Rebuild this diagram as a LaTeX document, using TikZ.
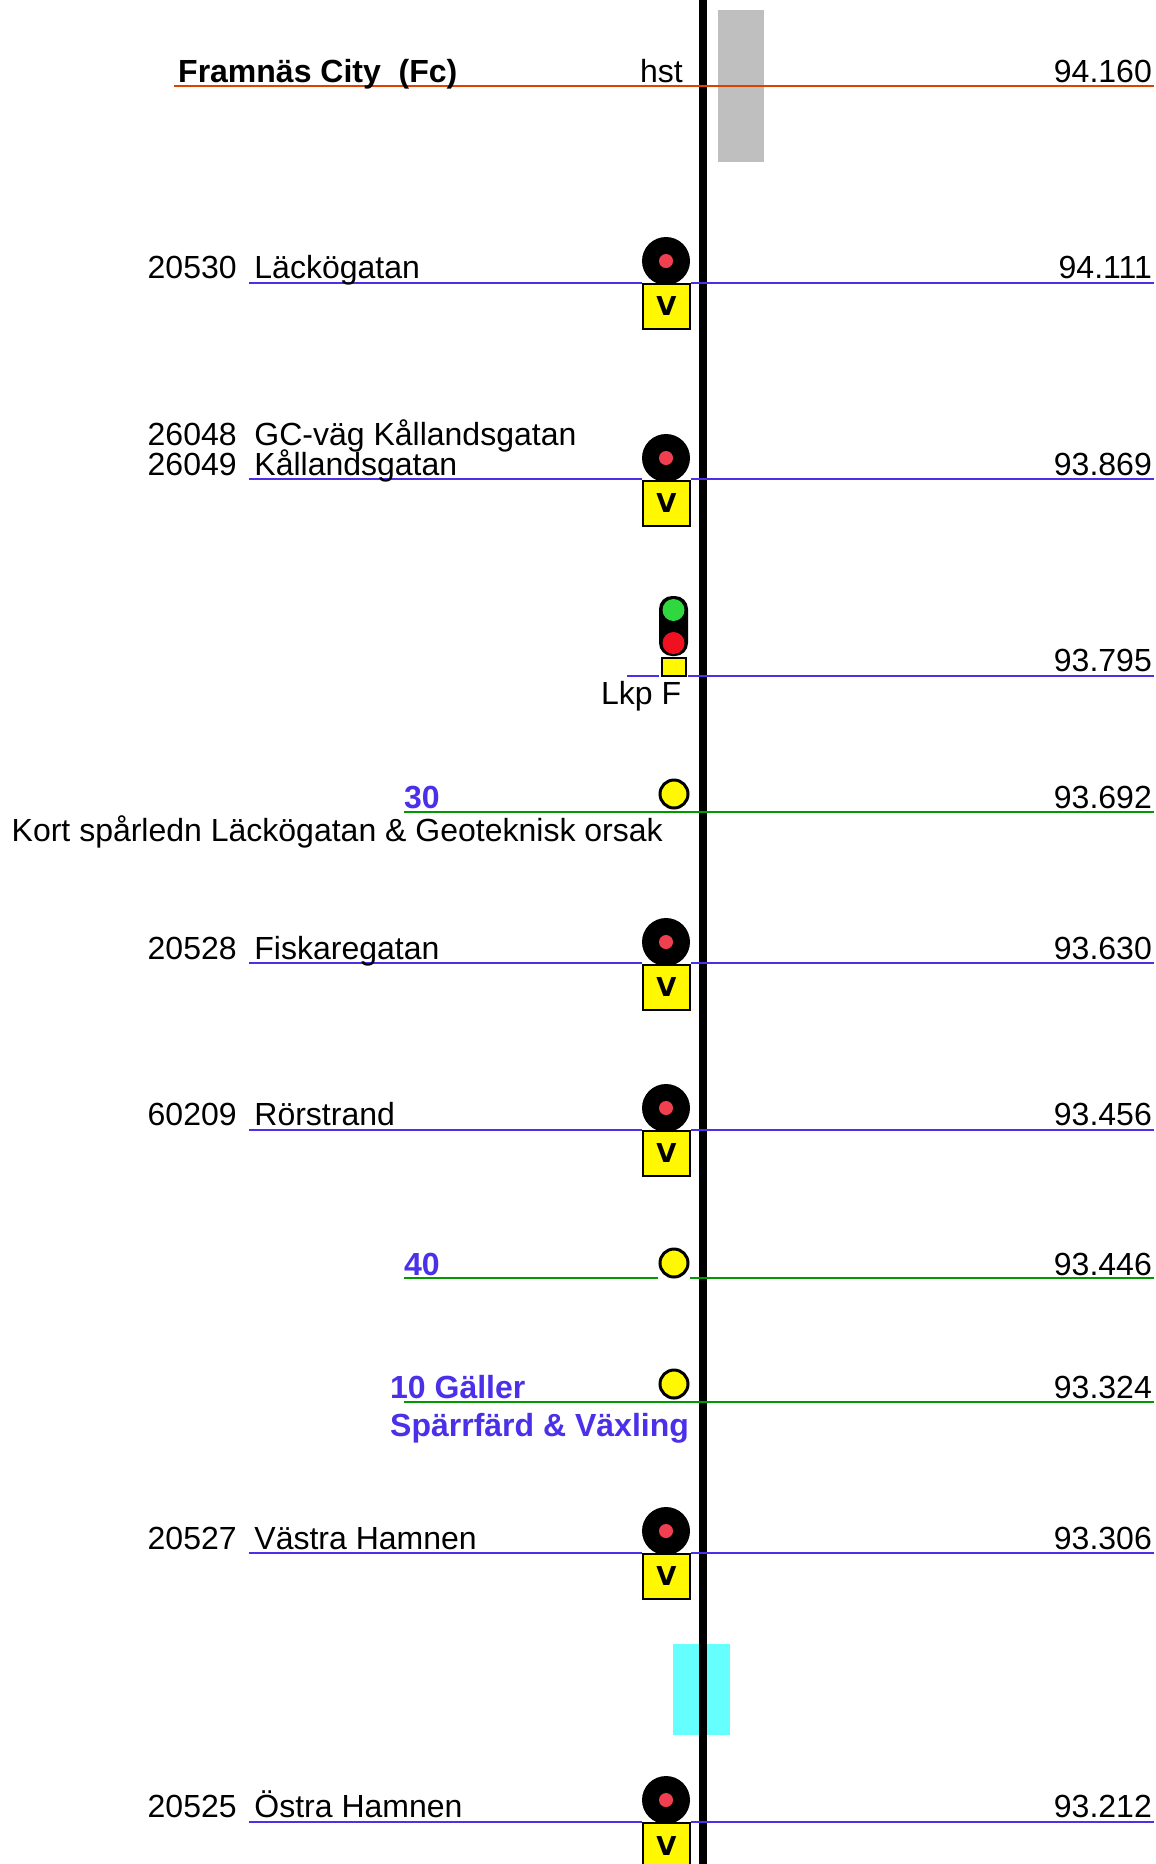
\documentclass[tikz,border=0pt]{standalone}
\usepackage{fontspec}
\setmainfont{Liberation Sans}
\newfontfamily\vfont{DejaVu Sans}
\definecolor{blueline}{HTML}{4A30E8}
\definecolor{greenline}{HTML}{009A00}
\definecolor{orangeline}{HTML}{E04000}
\definecolor{sigyellow}{HTML}{FFF800}
\definecolor{sigred}{HTML}{F04050}
\definecolor{labelblue}{HTML}{4A30E8}
\definecolor{lkpgreen}{HTML}{30D840}
\definecolor{lkpred}{HTML}{F01020}
\definecolor{platgrey}{HTML}{BFBFBF}
\definecolor{platcyan}{HTML}{66FFFF}
\tikzset{
  txt/.style={inner sep=0pt,anchor=base west,font=\fontsize{32}{32}\selectfont},
  km/.style={inner sep=0pt,anchor=base east,font=\fontsize{32}{32}\selectfont},
  speed/.style={inner sep=0pt,anchor=base west,text=labelblue,font=\fontsize{32}{32}\selectfont\bfseries},
  bl/.style={blueline,line width=2pt},
  gl/.style={greenline,line width=2pt},
  ol/.style={orangeline,line width=2pt},
  lamp/.style={circle,fill=black,minimum size=48pt,inner sep=0pt},
  dot/.style={circle,fill=sigred,minimum size=14pt,inner sep=0pt},
  vbox/.style={rectangle,draw=black,line width=2pt,fill=sigyellow,minimum width=47pt,minimum height=45pt,inner sep=0pt,font=\fontsize{26}{26}\vfont\bfseries},
  ycirc/.style={circle,draw=black,line width=3pt,fill=sigyellow,minimum size=28pt,inner sep=0pt},
}
\newcommand{\sigpost}[2]{% name, reference y
  \node[lamp] (#1l) at (666,#2-22) {};
  \node[dot] (#1d) at (666,#2-22) {};
  \node[vbox] (#1v) at (666.5,#2+23.5) {V};
}
\begin{document}
\begin{tikzpicture}[x=1pt,y=-1pt]
\useasboundingbox (0,0) rectangle (1156,1864);
\fill[white] (0,0) rectangle (1156,1864);
% platform rectangles
\fill[platgrey] (718,10) rectangle (764,162);
\fill[platcyan] (673,1644) rectangle (730,1735);
% track
\coordinate (tt) at (703,0);
\coordinate (tb) at (703,1864);
\draw[black,line width=8pt] (tt) -- (tb);
% horizontal lines
\coordinate (a0) at (174,86); \coordinate (b0) at (1154,86);
\draw[ol] (a0) -- (b0);
\coordinate (a1) at (249,283); \coordinate (a1g) at (642,283); \coordinate (b1g) at (691,283); \coordinate (b1) at (1154,283);
\draw[bl] (a1) -- (a1g) (b1g) -- (b1);
\coordinate (a2) at (249,479); \coordinate (a2g) at (642,479); \coordinate (b2g) at (691,479); \coordinate (b2) at (1154,479);
\draw[bl] (a2) -- (a2g) (b2g) -- (b2);
\coordinate (a3) at (627,676); \coordinate (a3g) at (659,676); \coordinate (b3g) at (688,676); \coordinate (b3) at (1154,676);
\draw[bl] (a3) -- (a3g) (b3g) -- (b3);
\coordinate (a4) at (404,812); \coordinate (b4) at (1154,812);
\draw[gl] (a4) -- (b4);
\coordinate (a5) at (249,963); \coordinate (a5g) at (642,963); \coordinate (b5g) at (691,963); \coordinate (b5) at (1154,963);
\draw[bl] (a5) -- (a5g) (b5g) -- (b5);
\coordinate (a6) at (249,1130); \coordinate (a6g) at (642,1130); \coordinate (b6g) at (691,1130); \coordinate (b6) at (1154,1130);
\draw[bl] (a6) -- (a6g) (b6g) -- (b6);
\coordinate (a7) at (404,1278); \coordinate (a7g) at (658,1278); \coordinate (b7g) at (690,1278); \coordinate (b7) at (1154,1278);
\draw[gl] (a7) -- (a7g) (b7g) -- (b7);
\coordinate (a8) at (404,1402); \coordinate (b8) at (1154,1402);
\draw[gl] (a8) -- (b8);
\coordinate (a9) at (249,1553); \coordinate (a9g) at (642,1553); \coordinate (b9g) at (691,1553); \coordinate (b9) at (1154,1553);
\draw[bl] (a9) -- (a9g) (b9g) -- (b9);
\coordinate (a10) at (249,1822); \coordinate (a10g) at (642,1822); \coordinate (b10g) at (691,1822); \coordinate (b10) at (1154,1822);
\draw[bl] (a10) -- (a10g) (b10g) -- (b10);
% signals
\sigpost{s1}{283}
\sigpost{s2}{480}
\sigpost{s5}{964}
\sigpost{s6}{1130}
\sigpost{s9}{1553}
\sigpost{s10}{1822}
% light signal
\node[rectangle,rounded corners=13pt,fill=black,minimum width=29pt,minimum height=60pt,inner sep=0pt] (lkp) at (673.5,626) {};
\node[circle,fill=lkpgreen,minimum size=22pt,inner sep=0pt] (lkpg) at (673.5,610) {};
\node[circle,fill=lkpred,minimum size=22pt,inner sep=0pt] (lkpr) at (673.5,643) {};
\node[rectangle,draw=black,line width=1.5pt,fill=sigyellow,minimum width=24pt,minimum height=18pt,inner sep=0pt] (lkpb) at (674,667) {};
% yellow circles
\node[ycirc] (y4) at (674,794) {};
\node[ycirc] (y7) at (674,1263) {};
\node[ycirc] (y8) at (674,1384) {};
% left labels
\node[txt,font=\fontsize{32}{32}\selectfont\bfseries] (t0) at (178,82) {Framnäs City\ \ (Fc)};
\node[txt] (t0b) at (640,82) {hst};
\node[txt] (t1) at (147.5,278) {20530\ \ Läckögatan};
\node[txt] (t2a) at (147.5,445) {26048\ \ GC-väg Kållandsgatan};
\node[txt] (t2b) at (147.5,475) {26049\ \ Kållandsgatan};
\node[txt] (t3) at (601,704) {Lkp F};
\node[speed] (t4a) at (404,808) {30};
\node[txt] (t4b) at (11.5,841) {Kort spårledn Läckögatan \& Geoteknisk orsak};
\node[txt] (t5) at (147.5,959) {20528\ \ Fiskaregatan};
\node[txt] (t6) at (147.5,1125) {60209\ \ Rörstrand};
\node[speed] (t7) at (404,1275) {40};
\node[speed] (t8a) at (390,1398) {10 Gäller};
\node[speed] (t8b) at (390,1436) {Spärrfärd \& Växling};
\node[txt] (t9) at (147.5,1549) {20527\ \ Västra Hamnen};
\node[txt] (t10) at (147.5,1817) {20525\ \ Östra Hamnen};
% km
\node[km] (k0) at (1152,82) {94.160};
\node[km] (k1) at (1152,278) {94.111};
\node[km] (k2) at (1152,475) {93.869};
\node[km] (k3) at (1152,671) {93.795};
\node[km] (k4) at (1152,808) {93.692};
\node[km] (k5) at (1152,959) {93.630};
\node[km] (k6) at (1152,1125) {93.456};
\node[km] (k7) at (1152,1275) {93.446};
\node[km] (k8) at (1152,1398) {93.324};
\node[km] (k9) at (1152,1549) {93.306};
\node[km] (k10) at (1152,1817) {93.212};
\end{tikzpicture}
\end{document}
